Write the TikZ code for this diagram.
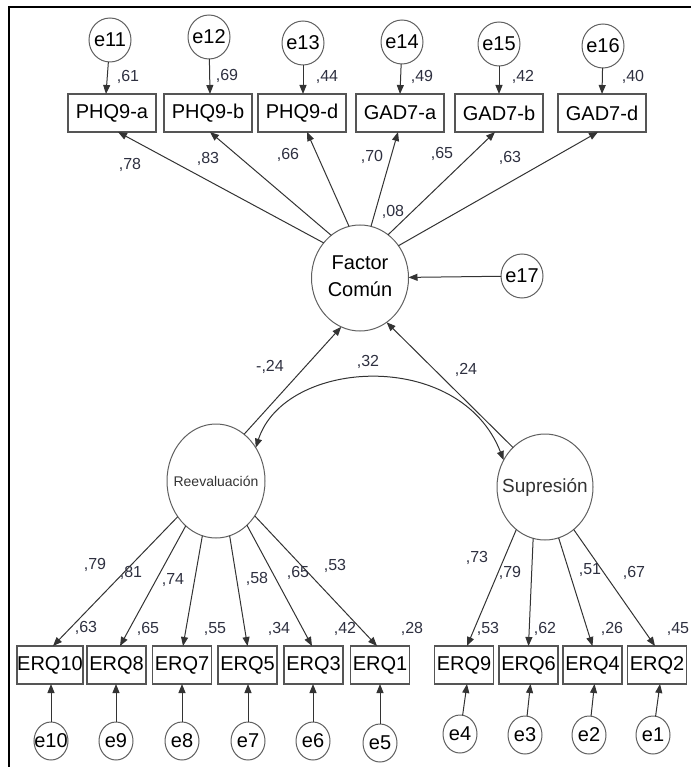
\documentclass[tikz,border=0pt]{standalone}
\usepackage{fontspec}
\setmainfont{Liberation Sans}
\usetikzlibrary{shapes.geometric,arrows.meta}
\definecolor{boxgray}{HTML}{555555}
\definecolor{circgray}{HTML}{606060}
\definecolor{linecol}{HTML}{333333}
\definecolor{labcol}{HTML}{2E3040}
\newcommand\zw[1]{\makebox[0pt]{#1}}
\begin{document}
\begin{tikzpicture}[x=1pt,y=-1pt,
  every node/.style={inner sep=0pt, outer sep=0pt},
  obs/.style={draw=boxgray, line width=1.1pt, rectangle, minimum width=59pt, minimum height=38pt, font=\fontsize{20}{24}\selectfont},
  obst/.style={obs, minimum width=88pt},
  err/.style={draw=circgray, line width=1pt, ellipse, minimum width=42pt, minimum height=44pt, font=\fontsize{20}{24}\selectfont},
  errs/.style={err, minimum width=34pt, minimum height=38pt},
  lat/.style={draw=circgray, line width=1pt, ellipse},
  lab/.style={font=\fontsize{16}{18}\selectfont, text=labcol},
  arr/.style={draw=linecol, line width=1pt, -{Triangle[length=9pt,width=7pt]}},
]
\useasboundingbox (0,0) rectangle (691,767);
% frame
\coordinate (fBL) at (9,767);
\coordinate (fTL) at (9,7);
\coordinate (fTR) at (691,7);
\draw[line width=2.5pt] (fBL) -- (fTL) -- (fTR);

% top observed
\node[obst] (pa) at (112,113) {PHQ9-a};
\node[obst] (pb) at (208,113) {PHQ9-b};
\node[obst] (pd) at (302,113) {PHQ9-d};
\node[obst] (ga) at (400,113) {GAD7-a};
\node[obst] (gb) at (499,113) {GAD7-b};
\node[obst] (gd) at (602,113) {GAD7-d};

% top errors
\node[err] (e11) at (110,40) {\zw{e11}};
\node[err] (e12) at (209,37) {\zw{e12}};
\node[err] (e13) at (303,43) {\zw{e13}};
\node[err] (e14) at (402,42) {\zw{e14}};
\node[err] (e15) at (499,44) {\zw{e15}};
\node[err] (e16) at (603,46) {\zw{e16}};

\draw[arr] (e11) -- ([xshift=-6pt]pa.north);
\draw[arr] (e12) -- ([xshift=2pt]pb.north);
\draw[arr] (e13) -- ([xshift=1pt]pd.north);
\draw[arr] (e14) -- (ga.north);
\draw[arr] (e15) -- (gb.north);
\draw[arr] (e16) -- (gd.north);

\node[lab] (l61) at (128,77) {,61};
\node[lab] (l69) at (227,76) {,69};
\node[lab] (l44) at (327,77) {,44};
\node[lab] (l49) at (422,77) {,49};
\node[lab] (l42) at (523,77) {,42};
\node[lab] (l40) at (633,77) {,40};

% Factor comun
\node[lat, minimum width=97pt, minimum height=106pt, font=\fontsize{20}{24}\selectfont] (fc) at (360,278)
  {\zw{\begin{tabular}{@{}c@{}}Factor\\[3pt]Común\end{tabular}}};
\node[err] (e17) at (522,276) {\zw{e17}};
\draw[arr] (e17) -- (fc);

\draw[arr] (fc.136) -- ([xshift=6pt]pa.south);
\draw[arr] (fc.124) -- ([xshift=2pt]pb.south);
\draw[arr] (fc.102) -- ([xshift=5pt]pd.south);
\draw[arr] (fc.78) -- ([xshift=-2pt]ga.south);
\draw[arr] (fc.57) -- ([xshift=-4pt]gb.south);
\draw[arr] (fc.40) -- ([xshift=-4pt]gd.south);

\node[lab] (l78) at (130,165) {,78};
\node[lab] (l83) at (208,159) {,83};
\node[lab] (l66) at (288,155) {,66};
\node[lab] (l70) at (372,157) {,70};
\node[lab] (l65t) at (442,154) {,65};
\node[lab] (l63t) at (510,158) {,63};
\node[lab] (l08) at (393,212) {,08};

% latent factors
\node[lat, minimum width=98pt, minimum height=114pt, font=\fontsize{14}{16}\selectfont, text=linecol] (rv) at (216,481) {\zw{Reevaluación}};
\node[lat, minimum width=96pt, minimum height=106pt, font=\fontsize{19}{22}\selectfont, text=linecol] (sp) at (545,487) {\zw{Supresión}};

\draw[arr] (rv.59) -- (fc.249);
\draw[arr] (sp.129) -- (fc.301);
\draw[draw=linecol, line width=1pt, {Triangle[length=9pt,width=7pt]}-{Triangle[length=9pt,width=7pt]}]
  (rv.40) .. controls (285,358) and (460,348) .. (sp.147);

\node[lab] (lm24) at (270,367) {-,24};
\node[lab] (l32) at (368,362) {,32};
\node[lab] (l24) at (466,370) {,24};

% bottom observed
\node[obs, minimum width=66pt] (q10) at (50,665) {ERQ10};
\node[obs] (q8) at (116.5,665) {ERQ8};
\node[obs] (q7) at (182,665) {ERQ7};
\node[obs] (q5) at (247.5,665) {ERQ5};
\node[obs] (q3) at (313.5,665) {ERQ3};
\node[obs] (q1) at (380,665) {ERQ1};
\node[obs] (q9) at (464,665) {ERQ9};
\node[obs] (q6) at (528.5,665) {ERQ6};
\node[obs] (q4) at (592.5,665) {ERQ4};
\node[obs] (q2) at (657,665) {ERQ2};

\draw[arr] (rv.223) -- ([xshift=3pt]q10.north);
\draw[arr] (rv.236) -- ([xshift=3.5pt]q8.north);
\draw[arr] (rv.256) -- ([xshift=1pt]q7.north);
\draw[arr] (rv.284) -- (q5.north);
\draw[arr] (rv.305) -- ([xshift=-1.5pt]q3.north);
\draw[arr] (rv.318) -- ([xshift=-3pt]q1.north);
\draw[arr] (sp.236) -- ([xshift=3pt]q9.north);
\draw[arr] (sp.257) -- (q6.north);
\draw[arr] (sp.285) -- (q4.north);
\draw[arr] (sp.304) -- ([xshift=-2pt]q2.north);

\node[lab] (b79) at (95,565) {,79};
\node[lab] (b81) at (131,573) {,81};
\node[lab] (b74) at (173,580) {,74};
\node[lab] (b58) at (257,579) {,58};
\node[lab] (b65) at (298,573) {,65};
\node[lab] (b53) at (335,566) {,53};
\node[lab] (r63) at (86,628) {,63};
\node[lab] (r65) at (148,629) {,65};
\node[lab] (r55) at (215,629) {,55};
\node[lab] (r34) at (279,629) {,34};
\node[lab] (r42) at (345,629) {,42};
\node[lab] (r28) at (412,629) {,28};
\node[lab] (s73) at (477,558) {,73};
\node[lab] (s79) at (510,573) {,79};
\node[lab] (s51) at (590,570) {,51};
\node[lab] (s67) at (634,573) {,67};
\node[lab] (r53) at (488,629) {,53};
\node[lab] (r62) at (545,629) {,62};
\node[lab] (r26) at (612,629) {,26};
\node[lab] (r45) at (678,629) {,45};

% bottom errors
\node[errs] (e10) at (51,741) {\zw{e10}};
\node[errs] (e9) at (116,741) {\zw{e9}};
\node[errs] (e8) at (182,741) {\zw{e8}};
\node[errs] (e7) at (248,741) {\zw{e7}};
\node[errs] (e6) at (313,741) {\zw{e6}};
\node[errs] (e5) at (380,743) {\zw{e5}};
\node[errs] (e4) at (460,734) {\zw{e4}};
\node[errs] (e3) at (525,735) {\zw{e3}};
\node[errs] (e2) at (589,735) {\zw{e2}};
\node[errs] (e1) at (653,735) {\zw{e1}};

\draw[arr] (e10) -- (q10.south -| e10);
\draw[arr] (e9) -- (q8.south -| e9);
\draw[arr] (e8) -- (q7.south -| e8);
\draw[arr] (e7) -- (q5.south -| e7);
\draw[arr] (e6) -- (q3.south -| e6);
\draw[arr] (e5) -- (q1.south -| e5);
\draw[arr] (e4) -- ([xshift=3pt]q9.south);
\draw[arr] (e3) -- ([xshift=2pt]q6.south);
\draw[arr] (e2) -- ([xshift=2pt]q4.south);
\draw[arr] (e1) -- ([xshift=3pt]q2.south);
\end{tikzpicture}
\end{document}
